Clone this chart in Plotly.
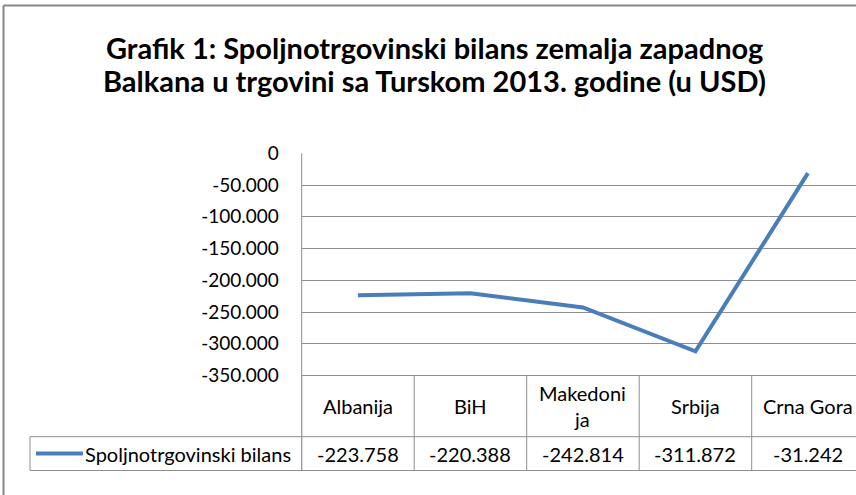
import plotly.graph_objects as go

# ---- data ----
categories = ["Albanija", "BiH", "Makedonija", "Srbija", "Crna Gora"]
category_labels = ["Albanija", "BiH", "Makedoni<br>ja", "Srbija", "Crna Gora"]
values = [-223758, -220388, -242814, -311872, -31242]
series_name = "Spoljnotrgovinski bilans"
title_lines = ["Grafik 1: Spoljnotrgovinski bilans zemalja zapadnog",
               "Balkana u trgovini sa Turskom 2013. godine (u USD)"]
y_ticks = [0, -50000, -100000, -150000, -200000, -250000, -300000, -350000]

W, H = 856, 495
FONT = "Lato, Carlito, Calibri, sans-serif"
LINE_COLOR = "#4A7EBB"
GRID = "#8E8E8E"

def px(x):
    return x / W

def py(y):
    return 1 - y / H

plot_left, plot_top, plot_bottom = 301.7, 153.3, 375.5
col_w = 112.5
x_max = -0.5 + (W - plot_left) / col_w

fmt = lambda v: f"{v:,d}".replace(",", ".")

fig = go.Figure()
fig.add_trace(go.Scatter(
    x=categories, y=values, mode="lines",
    line=dict(color=LINE_COLOR, width=4),
    showlegend=False, hoverinfo="skip",
))

shapes = []
annotations = []

# chart frame (kept inside the canvas)
shapes.append(dict(type="line", xref="paper", yref="paper",
                   x0=px(3.5), x1=1, y0=py(5.5), y1=py(5.5),
                   line=dict(color="#878787", width=2)))
shapes.append(dict(type="line", xref="paper", yref="paper",
                   x0=px(3.5), x1=px(3.5), y0=0, y1=py(5.5),
                   line=dict(color="#878787", width=2)))

row1_top = plot_bottom
row1_bot = 436.7
row2_bot = 470.5

for i in range(len(categories)):
    shapes.append(dict(type="line", xref="x", yref="paper",
                       x0=i - 0.5, x1=i - 0.5, y0=py(row1_top), y1=py(row2_bot),
                       line=dict(color=GRID, width=1)))
shapes.append(dict(type="line", xref="paper", yref="paper",
                   x0=px(plot_left), x1=px(plot_left), y0=py(plot_top), y1=py(row2_bot),
                   line=dict(color=GRID, width=1)))
for yy, x0 in [(row1_top, plot_left), (row1_bot, 30), (row2_bot, 30)]:
    shapes.append(dict(type="line", xref="paper", yref="paper",
                       x0=px(x0), x1=1, y0=py(yy), y1=py(yy),
                       line=dict(color=GRID, width=1)))
shapes.append(dict(type="line", xref="paper", yref="paper",
                   x0=px(30), x1=px(30), y0=py(row1_bot), y1=py(row2_bot),
                   line=dict(color=GRID, width=1)))
key_y = (row1_bot + row2_bot) / 2
shapes.append(dict(type="line", xref="paper", yref="paper",
                   x0=px(36), x1=px(83), y0=py(key_y), y1=py(key_y),
                   line=dict(color=LINE_COLOR, width=4)))

TABLE_FS = 20
for i, (lab, v) in enumerate(zip(category_labels, values)):
    annotations.append(dict(x=i, y=py((row1_top + row1_bot) / 2), xref="x", yref="paper",
                            text=lab, showarrow=False, xanchor="center", yanchor="middle",
                            font=dict(family=FONT, size=TABLE_FS, color="#000")))
    annotations.append(dict(x=i, y=py(key_y), xref="x", yref="paper",
                            text=fmt(v), showarrow=False, xanchor="center", yanchor="middle",
                            font=dict(family=FONT, size=TABLE_FS, color="#000")))
annotations.append(dict(x=px(83), y=py(key_y), xref="paper", yref="paper",
                        text=series_name, showarrow=False, xanchor="left", yanchor="middle",
                        font=dict(family=FONT, size=TABLE_FS, color="#000")))
for line, yc in zip(title_lines, [48, 80]):
    annotations.append(dict(x=px(434), y=py(yc), xref="paper", yref="paper",
                            text="<b>" + line + "</b>", showarrow=False,
                            xanchor="center", yanchor="middle",
                            font=dict(family=FONT, size=29, color="#000")))

fig.update_layout(
    width=W, height=H,
    margin=dict(l=0, r=0, t=0, b=0, autoexpand=False),
    paper_bgcolor="white", plot_bgcolor="white",
    xaxis=dict(domain=[px(plot_left), 1], range=[-0.5, x_max], type="category",
               showgrid=False, showticklabels=False, zeroline=False, showline=False),
    yaxis=dict(domain=[py(plot_bottom), py(plot_top)], range=[-350000, 0],
               tickvals=y_ticks, ticktext=[fmt(v) for v in y_ticks],
               showgrid=True, gridcolor=GRID, gridwidth=1, zeroline=False,
               showline=False, ticks="outside", ticklen=18, tickcolor="rgba(0,0,0,0)",
               tickfont=dict(family=FONT, size=19, color="#000")),
    shapes=shapes, annotations=annotations,
    showlegend=False,
)

fig.write_html("out.html")
